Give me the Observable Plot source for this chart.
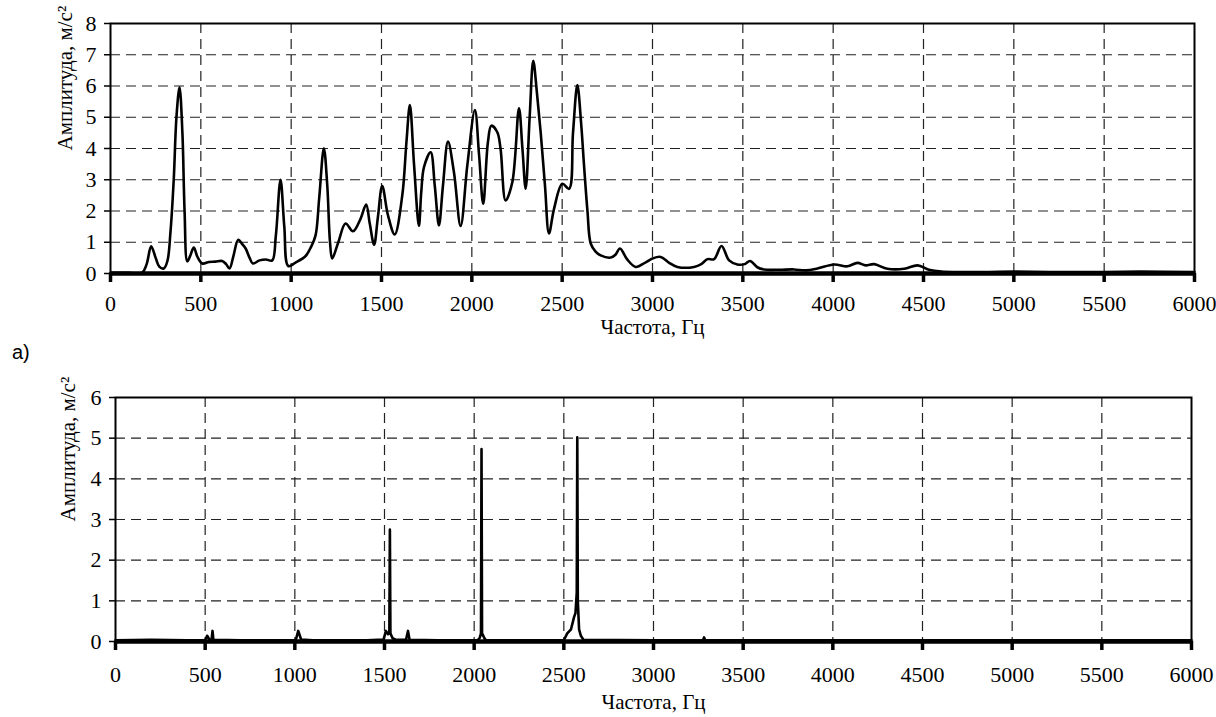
<!DOCTYPE html>
<html>
<head>
<meta charset="utf-8">
<script src="https://cdn.jsdelivr.net/npm/d3@7"></script>
<script src="https://cdn.jsdelivr.net/npm/@observablehq/plot@0.6"></script>
<style>
  html, body { margin: 0; padding: 0; background: #fff; }
  #wrap { position: relative; width: 1216px; height: 717px; background: #fff; overflow: hidden; }
  #top, #bottom { position: absolute; left: 0; }
  #top { top: 0; }
  #bottom { top: 360px; }
  #lbl { position: absolute; left: 12px; top: 342px; font-family: "Liberation Sans", Arial, sans-serif; font-size: 20px; line-height: 1; color: #000; }
</style>
</head>
<body>
<div id="wrap">
  <div id="top"></div>
  <div id="lbl">а)</div>
  <div id="bottom"></div>
</div>
<script>
// ---- data ----
const xTicks = [0, 500, 1000, 1500, 2000, 2500, 3000, 3500, 4000, 4500, 5000, 5500, 6000];
const yTicksTop = [0, 1, 2, 3, 4, 5, 6, 7, 8];
const yTicksBottom = [0, 1, 2, 3, 4, 5, 6];
const xTitle = "Частота, Гц";
const yTitle = "Амплитуда, м/с²";

// (a) broadband spectrum
const freqTop = [0, 100, 175, 200, 225, 250, 270, 295, 315, 332, 350, 365, 382, 398, 410, 425, 440, 461, 480, 508,
  545, 580, 618, 640, 659, 680, 707, 728, 748, 770, 788, 825, 860, 895, 915, 941, 962, 984, 1024, 1080,
  1110, 1135, 1155, 1181, 1200, 1215, 1227, 1261, 1301, 1342, 1384, 1415, 1435, 1459, 1480, 1504, 1536, 1573, 1615, 1638,
  1657, 1680, 1707, 1720, 1735, 1772, 1795, 1818, 1840, 1868, 1901, 1938, 1975, 2017, 2040, 2063, 2089, 2108, 2141, 2159,
  2187, 2224, 2261, 2280, 2298, 2320, 2340, 2360, 2381, 2405, 2427, 2455, 2501, 2538, 2560, 2584, 2605, 2621, 2640, 2658,
  2685, 2713, 2769, 2795, 2820, 2860, 2907, 2960, 3000, 3045, 3090, 3138, 3230, 3270, 3304, 3341, 3382, 3424, 3470, 3510,
  3540, 3580, 3617, 3700, 3783, 3850, 3913, 4005, 4079, 4134, 4180, 4226, 4300, 4393, 4467, 4530, 4600, 4700, 4850, 5000,
  5200, 5500, 5700, 6000];
const ampTop = [0.02, 0.02, 0.03, 0.3, 0.87, 0.5, 0.22, 0.16, 0.4, 1.33, 3.0, 5.0, 5.96, 4.5, 2.0, 0.39, 0.55, 0.83, 0.55, 0.32,
  0.37, 0.38, 0.40, 0.3, 0.16, 0.55, 1.08, 0.95, 0.8, 0.5, 0.32, 0.42, 0.45, 0.42, 1.2, 3.0, 1.5, 0.24, 0.35, 0.56,
  0.85, 1.22, 2.4, 4.01, 2.8, 1.0, 0.48, 1.0, 1.6, 1.35, 1.75, 2.21, 1.6, 0.92, 1.8, 2.8, 1.86, 1.25, 2.5, 4.2,
  5.39, 3.5, 1.52, 2.6, 3.4, 3.88, 2.8, 1.54, 2.8, 4.22, 3.24, 1.52, 3.46, 5.23, 3.8, 2.23, 4.2, 4.73, 4.52, 3.99,
  2.34, 2.92, 5.29, 4.0, 2.71, 5.0, 6.81, 5.8, 4.52, 2.8, 1.28, 2.07, 2.87, 2.71, 4.5, 6.03, 4.8, 3.46, 2.0, 0.96,
  0.7, 0.58, 0.51, 0.6, 0.8, 0.45, 0.21, 0.35, 0.48, 0.53, 0.35, 0.21, 0.21, 0.3, 0.46, 0.46, 0.88, 0.42, 0.29, 0.3,
  0.4, 0.2, 0.13, 0.12, 0.13, 0.1, 0.16, 0.29, 0.23, 0.34, 0.26, 0.3, 0.15, 0.15, 0.26, 0.12, 0.06, 0.05, 0.05, 0.06,
  0.05, 0.05, 0.06, 0.05];

// (b) narrow-band spectrum
const freqBottom = [0, 200, 400, 500, 511, 525, 536, 541, 546, 700, 900, 1005, 1019, 1035, 1100, 1400, 1495, 1508, 1520, 1527,
  1530, 1533, 1545, 1560, 1620, 1631, 1640, 1800, 2020, 2032, 2038, 2041, 2044, 2055, 2065, 2300, 2500, 2519, 2540, 2557,
  2565, 2572, 2575, 2578, 2585, 2595, 2610, 3000, 3276, 3282, 3288, 4000, 5000, 6000];
const ampBottom = [0.03, 0.04, 0.03, 0.03, 0.14, 0.04, 0.05, 0.26, 0.04, 0.03, 0.03, 0.03, 0.26, 0.05, 0.03, 0.03, 0.05, 0.26, 0.18, 0.2,
  2.75, 0.2, 0.08, 0.05, 0.04, 0.26, 0.04, 0.03, 0.03, 0.1, 0.2, 4.73, 0.2, 0.1, 0.03, 0.03, 0.03, 0.2, 0.3, 0.6,
  0.7, 1.2, 5.02, 1.0, 0.3, 0.14, 0.04, 0.03, 0.03, 0.1, 0.03, 0.03, 0.03, 0.03];

const topData = freqTop.map((f, i) => ({f, a: ampTop[i]}));
const bottomData = freqBottom.map((f, i) => ({f, a: ampBottom[i]}));

const gridStyle = {stroke: "#222", strokeOpacity: 1, strokeWidth: 1.2, strokeDasharray: "10,6"};
const fontFam = "Liberation Serif";

function chart({data, yTicks, height, mTop, mBottom, mLeft, mRight, tickPad, titleDy, ylabDx, curve}) {
  const ymax = yTicks[yTicks.length - 1];
  return Plot.plot({
    width: 1216,
    height,
    marginLeft: mLeft, marginRight: mRight, marginTop: mTop, marginBottom: mBottom,
    style: "font-family: 'Liberation Serif', serif; font-size: 22px; color: #000; background: transparent; overflow: visible;",
    x: {domain: [0, 6000]},
    y: {domain: [0, ymax]},
    marks: [
      Plot.gridY(yTicks.slice(1, -1), gridStyle),
      Plot.gridX(xTicks.slice(1, -1), gridStyle),
      Plot.line(data, {x: "f", y: "a", curve, stroke: "#000", strokeWidth: 2.6}),
      Plot.frame({stroke: "#000", strokeWidth: 2}),
      Plot.ruleY([0], {stroke: "#000", strokeWidth: 4.5}),
      Plot.axisX(xTicks, {tickSize: 9, strokeWidth: 3.5, label: null, text: null}),
      Plot.text(xTicks, {x: d => d, text: d => String(d), frameAnchor: "bottom", dy: 9 + tickPad, lineAnchor: "top", fontSize: 22, fontFamily: fontFam}),
      Plot.axisY(yTicks, {tickSize: 6, strokeWidth: 1.5, label: null, text: null}),
      Plot.text(yTicks, {y: d => d, text: d => String(d), frameAnchor: "left", dx: -14, textAnchor: "end", fontSize: 22, fontFamily: fontFam}),
      Plot.text([xTitle], {text: d => d, frameAnchor: "bottom", dy: titleDy, fontSize: 21, fontFamily: fontFam}),
      Plot.text([yTitle], {text: d => d, frameAnchor: "left", dx: ylabDx, dy: 2, rotate: -90, fontSize: 21, fontFamily: fontFam})
    ]
  });
}

document.getElementById("top").append(chart({
  data: topData, yTicks: yTicksTop, height: 345, mTop: 23, mBottom: 72, mLeft: 110, mRight: 22,
  tickPad: 13, titleDy: 60, ylabDx: -45, curve: "catmull-rom"
}));
document.getElementById("bottom").append(chart({
  data: bottomData, yTicks: yTicksBottom, height: 357, mTop: 37, mBottom: 76, mLeft: 115, mRight: 25,
  tickPad: 16, titleDy: 67, ylabDx: -47, curve: "linear"
}));
</script>
</body>
</html>
